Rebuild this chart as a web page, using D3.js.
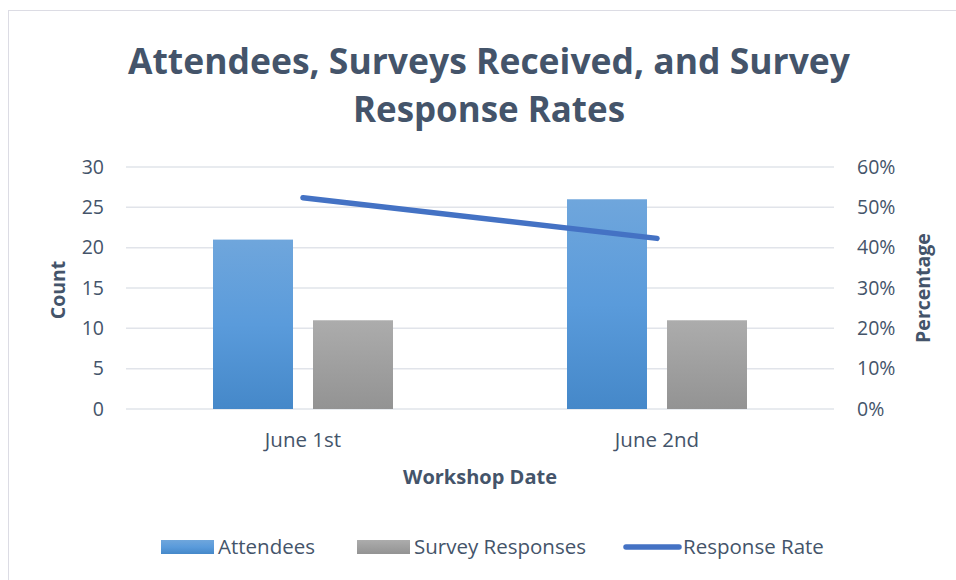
<!DOCTYPE html>
<html>
<head>
<meta charset="utf-8">
<script src="https://cdn.jsdelivr.net/npm/d3@7"></script>
<style>
  body { margin: 0; background: #fff; }
  svg { display: block; font-family: "Open Sans", sans-serif; }
</style>
</head>
<body>
<svg id="chart"></svg>
<script>
const dates = ["June 1st", "June 2nd"];
const attendees = [21, 26];
const surveys = [11, 11];
const responseRate = [0.524, 0.423];
const countTicks = [0, 5, 10, 15, 20, 25, 30];
const pctTicks = [0, 0.1, 0.2, 0.3, 0.4, 0.5, 0.6];

const width = 956;
const height = 580;
const textColor = "#44546A";

const svg = d3.select("#chart")
              .attr("width", width)
              .attr("height", height);

// frame
svg.append("rect")
   .attr("x", 8.5).attr("y", 10.5)
   .attr("width", 960).attr("height", 600)
   .attr("fill", "none")
   .attr("stroke", "#dcdce4");

const defs = svg.append("defs");
const blue = defs.append("linearGradient").attr("id", "gBlue")
                 .attr("x1", 0).attr("y1", 0).attr("x2", 0).attr("y2", 1);
blue.append("stop").attr("offset", "0%").attr("stop-color", "#6fa6dc");
blue.append("stop").attr("offset", "50%").attr("stop-color", "#5a9bdb");
blue.append("stop").attr("offset", "100%").attr("stop-color", "#4588c9");
const gray = defs.append("linearGradient").attr("id", "gGray")
                 .attr("x1", 0).attr("y1", 0).attr("x2", 0).attr("y2", 1);
gray.append("stop").attr("offset", "0%").attr("stop-color", "#acacac");
gray.append("stop").attr("offset", "100%").attr("stop-color", "#939393");

const x = d3.scaleBand().domain(dates).range([126, 834]);
const inner = d3.scaleBand().domain(["a", "s"]).range([0, 180]).paddingInner(0.2);
const y = d3.scaleLinear().domain([0, 30]).range([409, 167]);
const yPct = d3.scaleLinear().domain([0, 0.6]).range([409, 167]);

// gridlines
svg.append("g")
   .selectAll("line")
   .data(countTicks)
   .join("line")
   .attr("x1", 126).attr("x2", 834)
   .attr("y1", d => y(d)).attr("y2", d => y(d))
   .attr("stroke", "#e1e4ea")
   .attr("stroke-width", 1.5);

// left axis
const yAxis = svg.append("g")
   .attr("transform", "translate(104,0)")
   .call(d3.axisLeft(y).tickValues(countTicks).tickSize(0).tickPadding(0));
yAxis.select(".domain").remove();
yAxis.selectAll("text").attr("fill", textColor).style("font-size", "19.5px")
     .style("font-family", "Open Sans");

// right axis
const yAxisR = svg.append("g")
   .attr("transform", "translate(857,0)")
   .call(d3.axisRight(yPct).tickValues(pctTicks).tickSize(0).tickPadding(0)
           .tickFormat(d3.format(".0%")));
yAxisR.select(".domain").remove();
yAxisR.selectAll("text").attr("fill", textColor).style("font-size", "19.5px")
      .style("font-family", "Open Sans");

// bars
const groups = svg.append("g")
   .selectAll("g")
   .data(dates)
   .join("g")
   .attr("transform", d => `translate(${x(d) + (x.bandwidth() - 180) / 2},0)`);

groups.append("rect")
   .attr("x", inner("a"))
   .attr("y", (d, i) => y(attendees[i]))
   .attr("width", inner.bandwidth())
   .attr("height", (d, i) => y(0) - y(attendees[i]))
   .attr("fill", "url(#gBlue)");

groups.append("rect")
   .attr("x", inner("s"))
   .attr("y", (d, i) => y(surveys[i]))
   .attr("width", inner.bandwidth())
   .attr("height", (d, i) => y(0) - y(surveys[i]))
   .attr("fill", "url(#gGray)");

// response rate line
const line = d3.line()
   .x((d, i) => x(dates[i]) + x.bandwidth() / 2)
   .y(d => yPct(d));
svg.append("path")
   .datum(responseRate)
   .attr("d", line)
   .attr("fill", "none")
   .attr("stroke", "#4472c4")
   .attr("stroke-width", 5.5)
   .attr("stroke-linecap", "round");

// category labels
svg.append("g")
   .selectAll("text")
   .data(dates)
   .join("text")
   .attr("x", d => x(d) + x.bandwidth() / 2)
   .attr("y", 447)
   .attr("text-anchor", "middle")
   .attr("fill", textColor)
   .style("font-size", "20.5px")
   .text(d => d);

// titles
const title = svg.append("text")
   .attr("text-anchor", "middle")
   .attr("fill", textColor)
   .style("font-size", "35px")
   .style("font-weight", "bold");
title.append("tspan").attr("x", 489).attr("y", 74)
     .attr("textLength", 722).attr("lengthAdjust", "spacingAndGlyphs")
     .text("Attendees, Surveys Received, and Survey");
title.append("tspan").attr("x", 489).attr("y", 122)
     .attr("textLength", 272).attr("lengthAdjust", "spacingAndGlyphs")
     .text("Response Rates");

svg.append("text")
   .attr("transform", "translate(65,290) rotate(-90)")
   .attr("text-anchor", "middle")
   .attr("fill", textColor)
   .style("font-size", "19.5px").style("font-weight", "bold")
   .text("Count");

svg.append("text")
   .attr("transform", "translate(930,288) rotate(-90)")
   .attr("text-anchor", "middle")
   .attr("fill", textColor)
   .style("font-size", "19.5px").style("font-weight", "bold")
   .text("Percentage");

svg.append("text")
   .attr("x", 480).attr("y", 484)
   .attr("text-anchor", "middle")
   .attr("fill", textColor)
   .style("font-size", "20px").style("font-weight", "bold")
   .text("Workshop Date");

// legend
const legendItems = [
  { name: "Attendees", type: "bar", fill: "url(#gBlue)", x: 161 },
  { name: "Survey Responses", type: "bar", fill: "url(#gGray)", x: 357 },
  { name: "Response Rate", type: "line", fill: "#4472c4", x: 626 }
];
const legend = svg.append("g")
   .selectAll("g")
   .data(legendItems)
   .join("g")
   .attr("transform", d => `translate(${d.x},547)`);

legend.filter(d => d.type === "bar")
   .append("rect")
   .attr("x", 0).attr("y", -7)
   .attr("width", 53).attr("height", 14)
   .attr("fill", d => d.fill);

legend.filter(d => d.type === "line")
   .append("line")
   .attr("x1", 0).attr("x2", 53)
   .attr("stroke", d => d.fill)
   .attr("stroke-width", 5.5)
   .attr("stroke-linecap", "round");

legend.append("text")
   .attr("x", 57)
   .attr("y", 7)
   .attr("fill", textColor)
   .style("font-size", "20.5px")
   .text(d => d.name);
</script>
</body>
</html>
